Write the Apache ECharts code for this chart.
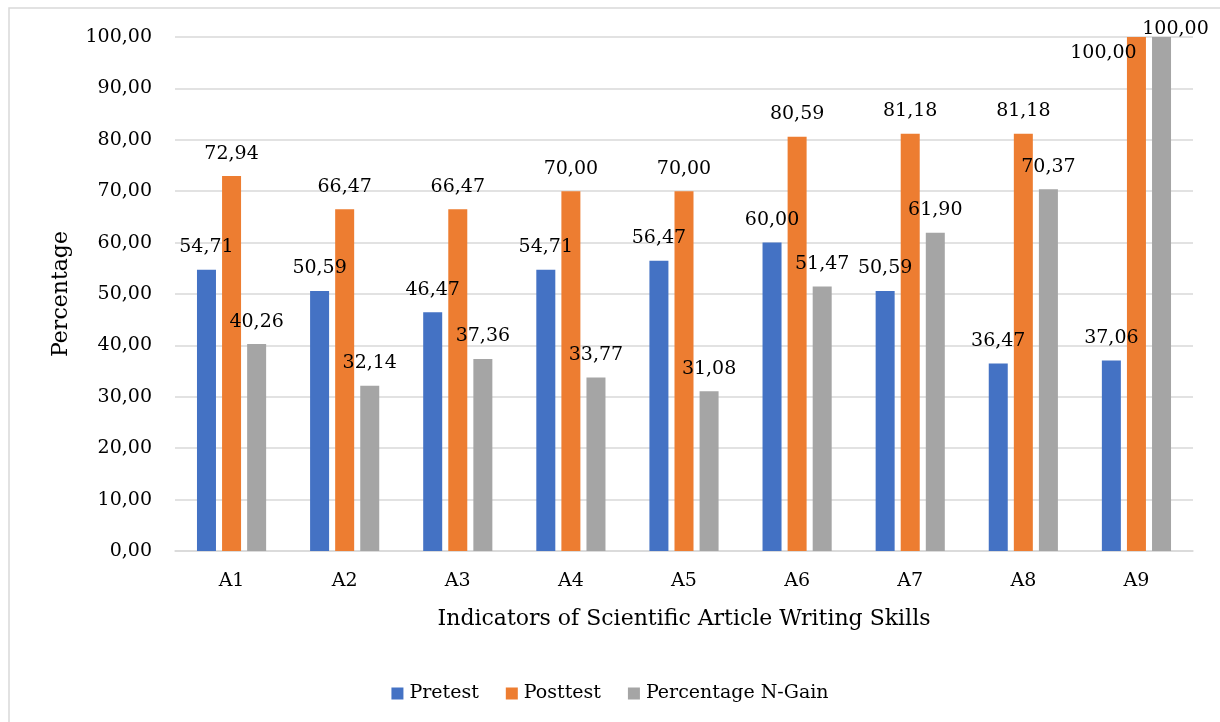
<!DOCTYPE html>
<html>
<head>
<meta charset="utf-8">
<script src="https://cdn.jsdelivr.net/npm/echarts@6/dist/echarts.min.js"></script>
<style>html,body{margin:0;padding:0;background:#fff;}#c{width:1220px;height:722px;}</style>
</head>
<body>
<div id="c"></div>
<script>
const categories = ['A1','A2','A3','A4','A5','A6','A7','A8','A9'];
const pretest = [54.71, 50.59, 46.47, 54.71, 56.47, 60.00, 50.59, 36.47, 37.06];
const posttest = [72.94, 66.47, 66.47, 70.00, 70.00, 80.59, 81.18, 81.18, 100.00];
const nGain = [40.26, 32.14, 37.36, 33.77, 31.08, 51.47, 61.90, 70.37, 100.00];
const seriesNames = ['Pretest', 'Posttest', 'Percentage N-Gain'];

const FONT = 'DejaVu Serif';
const fmt = v => Number(v).toFixed(2).replace('.', ',');

const chart = echarts.init(document.getElementById('c'), null, {renderer: 'canvas'});

function withOffsets(values, offsets) {
  return values.map((v, i) => offsets[i] ? {value: v, label: {offset: offsets[i]}} : v);
}

const labelCfg = {
  show: true,
  position: 'top',
  distance: 13,
  color: '#000',
  fontFamily: FONT,
  fontSize: 19,
  formatter: p => fmt(p.value)
};

chart.setOption({
  animation: false,
  backgroundColor: '#fff',
  graphic: [{
    type: 'rect',
    shape: {x: 9, y: 8, width: 1300, height: 800},
    style: {fill: 'none', stroke: '#d9d9d9', lineWidth: 1.5},
    silent: true
  }],
  grid: {left: 175, right: 27, top: 37, bottom: 171, containLabel: false},
  legend: {
    data: seriesNames,
    left: 'center',
    top: 679,
    icon: 'rect',
    itemWidth: 12,
    itemHeight: 12,
    itemGap: 27,
    textStyle: {fontFamily: FONT, fontSize: 19, color: '#000', padding: [0, 0, 0, 1]}
  },
  xAxis: {
    type: 'category',
    data: categories,
    name: 'Indicators of Scientific Article Writing Skills',
    nameLocation: 'middle',
    nameGap: 57,
    nameTextStyle: {fontFamily: FONT, fontSize: 22, color: '#000'},
    axisLine: {lineStyle: {color: '#d9d9d9', width: 1.5}},
    axisTick: {show: false},
    axisLabel: {fontFamily: FONT, fontSize: 19, color: '#000', margin: 21}
  },
  yAxis: {
    type: 'value',
    min: 0,
    max: 100,
    interval: 10,
    name: 'Percentage',
    nameLocation: 'middle',
    nameRotate: 90,
    nameGap: 103,
    nameTextStyle: {fontFamily: FONT, fontSize: 22, color: '#000'},
    axisLine: {show: false},
    axisTick: {show: false},
    splitLine: {lineStyle: {color: '#d9d9d9', width: 1.5}},
    axisLabel: {fontFamily: FONT, fontSize: 19, color: '#000', margin: 23, formatter: v => fmt(v)}
  },
  series: [
    {
      name: seriesNames[0], type: 'bar', data: pretest,
      barWidth: 19, barGap: '32%',
      itemStyle: {color: '#4472C4'},
      label: labelCfg
    },
    {
      name: seriesNames[1], type: 'bar',
      data: withOffsets(posttest, {8: [-33, 39]}),
      barWidth: 19, barGap: '32%',
      itemStyle: {color: '#ED7D31'},
      label: labelCfg
    },
    {
      name: seriesNames[2], type: 'bar',
      data: withOffsets(nGain, {8: [14, 15]}),
      barWidth: 19, barGap: '32%',
      itemStyle: {color: '#A5A5A5'},
      label: labelCfg
    }
  ]
});
</script>
</body>
</html>
